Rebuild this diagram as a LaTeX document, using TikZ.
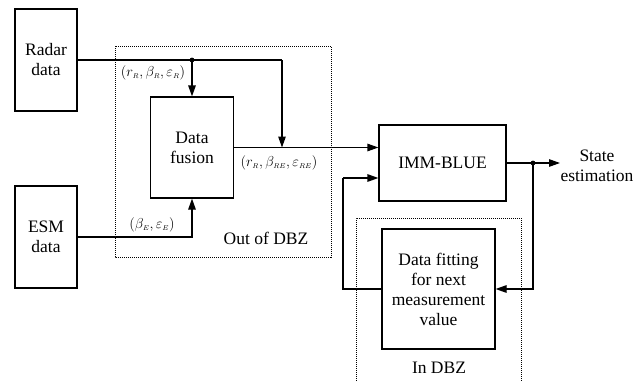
\documentclass[tikz,border=0pt]{standalone}
\usepackage{fontspec}
\setmainfont{Liberation Serif}
\usetikzlibrary{arrows.meta}
\tikzset{
  block/.style={draw, line width=1.2pt, align=center, inner sep=0pt},
  flow/.style={line width=1.2pt, -{Triangle[length=11pt,width=7.5pt]}},
  zone/.style={line width=0.9pt, dash pattern=on 1pt off 1pt},
  tag/.style={font=\fontsize{13.5}{15}\selectfont, inner sep=0pt}
}
\begin{document}
\begin{tikzpicture}[x=1pt, y=-1pt, font=\fontsize{17.5}{20}\selectfont]
  \useasboundingbox (0,0) rectangle (641,381);
  \draw
    (46,60) node[block, minimum width=62, minimum height=102] (radar){Radar\\data}
    (46,237) node[block, minimum width=62, minimum height=102] (esm){ESM\\data}
    (192,147.5) node[block, minimum width=83, minimum height=101] (fusion){Data\\fusion}
    (442.5,163) node[block, minimum width=127, minimum height=76] (imm){IMM-BLUE}
    (438.5,289) node[block, minimum width=113, minimum height=120] (fit){Data fitting\\for next\\measurement\\value};
  \coordinate (split) at (192,60);
  \coordinate (turn) at (282,60);
  \coordinate (tap) at (533,163);
  \coordinate (out) at (560,163);
  \coordinate (back) at (343,178);
  \draw[zone] (115,46) rectangle (331,257);
  \draw[zone] (356,381) -- (356,218) -- (521,218) -- (521,381);
  \begin{scope}[line width=1.2pt]
    \draw (radar.east) -- (turn);
    \draw[flow] (turn) -- (turn |- fusion.east);
    \draw[flow] (split) -- (fusion.north);
    \draw[flow] (fusion.east) -- (imm.west |- fusion.east);
    \draw[flow] (esm.east) -| (fusion.south);
    \draw (imm.east) -- (tap);
    \draw[flow] (tap) -- (out);
    \draw[flow] (tap) |- (fit.east);
    \draw (fit.west) -| (back);
    \draw[flow] (back) -- (back -| imm.west);
    \fill (split) circle (2.4);
    \fill (tap) circle (2.4);
  \end{scope}
  \node[tag] (tagradar) at (153,73) {$(r_{\scriptscriptstyle R},\beta_{\scriptscriptstyle R},\varepsilon_{\scriptscriptstyle R})$};
  \node[tag] (tagfused) at (279,163) {$(r_{\scriptscriptstyle R},\beta_{\scriptscriptstyle RE},\varepsilon_{\scriptscriptstyle RE})$};
  \node[tag] (tagesm) at (152,225) {$(\beta_{\scriptscriptstyle E},\varepsilon_{\scriptscriptstyle E})$};
  \node (outer) at (266,238) {Out of DBZ};
  \node (inner) at (439,368) {In DBZ};
  \node[align=center, inner sep=0pt] (state) at (597,166) {State\\estimation};
\end{tikzpicture}
\end{document}
